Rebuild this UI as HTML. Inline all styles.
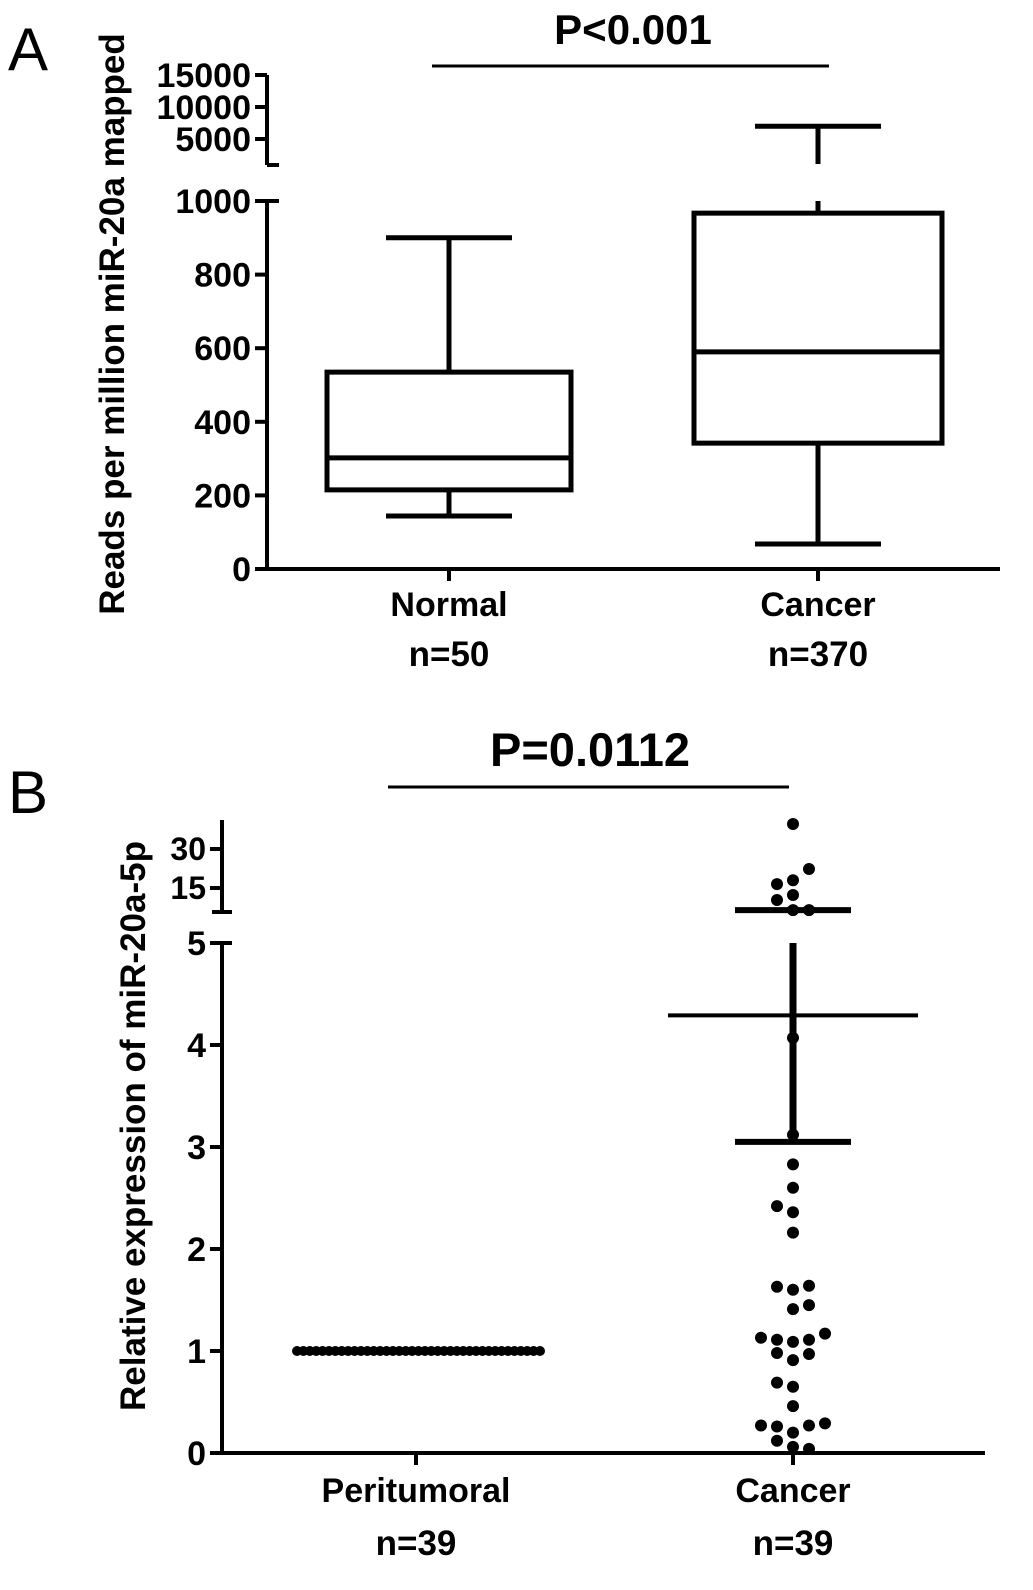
<!DOCTYPE html>
<html><head><meta charset="utf-8"><style>
body{margin:0;background:#fff}
svg{display:block}
text{font-family:"Liberation Sans",Arial,sans-serif;fill:#000}
</style></head><body>
<svg id="s" width="1033" height="1590" viewBox="0 0 1033 1590">
<g id="ga"></g>
<g id="gb"></g>
</svg>
<script>
// Panel A data
const aGroups=["Normal","Cancer"];
const aCounts=["n=50","n=370"];
const aMin=[144,68];
const aQ1=[215,342];
const aMed=[302,590];
const aQ3=[535,967];
const aMax=[900,7000];
const aLowTicks=[0,200,400,600,800,1000];
const aHighTicks=[5000,10000,15000];
// Panel B data
const bGroups=["Peritumoral","Cancer"];
const bCounts=["n=39","n=39"];
const bPeri=Array(39).fill(1);
const bCancer=[39.6,22.3,18,16.5,12.3,10.4,6.5,6.5,4.07,3.12,2.83,2.6,2.42,2.36,2.16,1.63,1.6,1.64,1.41,1.45,1.13,1.11,1.09,1.11,1.17,0.98,0.91,0.97,0.69,0.65,0.46,0.27,0.26,0.2,0.27,0.29,0.12,0.06,0.04];
const bCancerOff=[0,1,0,-1,0,-1,0,1,0,0,0,0,-1,0,0,-1,0,1,0,1,-2,-1,0,1,2,-1,0,1,-1,0,0,-2,-1,0,1,2,-1,0,1];
const bMean=4.29, bErrLow=3.05, bErrHigh=6.5;
const bLowTicks=[0,1,2,3,4,5];
const bHighTicks=[15,30];

const NS="http://www.w3.org/2000/svg";
function el(p,t,a){const e=document.createElementNS(NS,t);for(const k in a)e.setAttribute(k,a[k]);p.appendChild(e);return e;}
function line(p,x1,y1,x2,y2,w,name){const e=el(p,'line',{x1,y1,x2,y2,stroke:'#000','stroke-width':w,'stroke-linecap':'butt'});

return e;}
function txt(p,x,y,s,size,name,anchor,weight,rot){const e=el(p,'text',{x,y,'font-size':size,'text-anchor':anchor||'middle','font-weight':weight||'bold'});
if(rot)e.setAttribute('transform',rot);e.textContent=s;

return e;}

// ---- Panel A ----
const A=document.getElementById('ga');
const aAx=267, aX0=569;
function aY(v){return v<=1000? 569-v*0.368 : 139-(v-5000)*32/5000;}
const aXpos=[449,818];
txt(A,8,70,"A",60,'panel-a-label','start','normal');
txt(A,633,44,"P<0.001",42,'p-value-a');
line(A,432,66,829,66,3,'significance-bar-a');
line(A,aAx,aY(0)+2,aAx,aY(1000),4,'y-axis-a-lower');
line(A,aAx,aY(1000),aAx+12,aY(1000),4,'axis-break-cap-a-lower');
line(A,aAx,165,aAx,aY(15000),4,'y-axis-a-upper');
line(A,aAx,165,aAx+12,165,4,'axis-break-cap-a-upper');
line(A,aAx,aX0,1000,aX0,4,'x-axis-a');
aLowTicks.forEach(v=>{line(A,aAx-12,aY(v),aAx,aY(v),4,'y-tick-a');txt(A,aAx-16,aY(v)+12,String(v),34,'y-tick-label-a','end');});
aHighTicks.forEach(v=>{line(A,aAx-12,aY(v),aAx,aY(v),4,'y-tick-a');txt(A,aAx-16,aY(v)+12,String(v),34,'y-tick-label-a','end');});
txt(A,0,0,"Reads per million miR-20a mapped",35,'y-axis-title-a','middle','bold','translate(124,324) rotate(-90)');
aGroups.forEach((g,i)=>{const x=aXpos[i];
 line(A,x,aX0,x,aX0+12,4,'x-tick-a');
 txt(A,x,616,g,34,'x-label-'+g.toLowerCase());
 txt(A,x,666,aCounts[i],35,'n-label-'+g.toLowerCase());
 const hw=i?124:122;
 const r=el(A,'rect',{x:x-hw,y:aY(aQ3[i]),width:2*hw,height:aY(aQ1[i])-aY(aQ3[i]),fill:'none',stroke:'#000','stroke-width':5});
 
 
 line(A,x-hw,aY(aMed[i]),x+hw,aY(aMed[i]),5,'median-'+g.toLowerCase());
 line(A,x,aY(aQ1[i]),x,aY(aMin[i]),5,'lower-whisker-'+g.toLowerCase());
 line(A,x-63,aY(aMin[i]),x+63,aY(aMin[i]),5,'min-cap-'+g.toLowerCase());
 if(aMax[i]>1000){line(A,x,aY(aQ3[i]),x,aY(1000),5,'upper-whisker-'+g.toLowerCase());line(A,x,164,x,aY(aMax[i]),5,'upper-whisker-top-'+g.toLowerCase());}
 else line(A,x,aY(aQ3[i]),x,aY(aMax[i]),5,'upper-whisker-'+g.toLowerCase());
 line(A,x-63,aY(aMax[i]),x+63,aY(aMax[i]),5,'max-cap-'+g.toLowerCase());
});

// ---- Panel B ----
const B=document.getElementById('gb');
const bAx=222, bX0=1453;
function bY(v){return v<=5.2? 1453-v*102 : 888-(v-15)*2.6;}
const bXpos=[416,793];
txt(B,8,813,"B",60,'panel-b-label','start','normal');
txt(B,590,766,"P=0.0112",47,'p-value-b');
line(B,388,787,789,787,3,'significance-bar-b');
line(B,bAx,bX0+2,bAx,943,4,'y-axis-b-lower');
line(B,bAx-10,943,bAx+10,943,4,'axis-break-cap-b-lower');
line(B,bAx,912,bAx,820,4,'y-axis-b-upper');
line(B,bAx-10,912,bAx+10,912,4,'axis-break-cap-b-upper');
line(B,bAx,bX0,985,bX0,4,'x-axis-b');
bLowTicks.forEach(v=>{line(B,bAx-12,bY(v),bAx,bY(v),4,'y-tick-b');txt(B,bAx-16,bY(v)+12,String(v),34,'y-tick-label-b','end');});
bHighTicks.forEach(v=>{line(B,bAx-12,bY(v),bAx,bY(v),4,'y-tick-b');txt(B,bAx-16,bY(v)+11,String(v),32,'y-tick-label-b','end');});
txt(B,0,0,"Relative expression of miR-20a-5p",35,'y-axis-title-b','middle','bold','translate(145,1126) rotate(-90)');
bGroups.forEach((g,i)=>{const x=bXpos[i];
 line(B,x,bX0,x,bX0+12,4,'x-tick-b');
 txt(B,x,1502,g,34,'x-label-'+g.toLowerCase());
 txt(B,x,1555,bCounts[i],35,'n-label-'+g.toLowerCase());
});
bPeri.forEach((v,j)=>{const x=297+j*(243/(bPeri.length-1));
 const c=el(B,'circle',{cx:x,cy:bY(v),r:5,fill:'#000'});
 
 
});
bCancer.forEach((v,j)=>{const x=bXpos[1]+bCancerOff[j]*16;
 const c=el(B,'circle',{cx:x,cy:bY(v),r:6,fill:'#000'});
 
 
});
const cx=bXpos[1];
line(B,cx-125,bY(bMean),cx+125,bY(bMean),4,'mean-line-cancer');
line(B,cx,bY(bErrLow),cx,943,7,'error-bar-cancer');
line(B,cx-58,bY(bErrLow),cx+58,bY(bErrLow),6,'error-cap-low-cancer');
line(B,cx-58,bY(bErrHigh),cx+58,bY(bErrHigh),6,'error-cap-high-cancer');
</script>
</body></html>
